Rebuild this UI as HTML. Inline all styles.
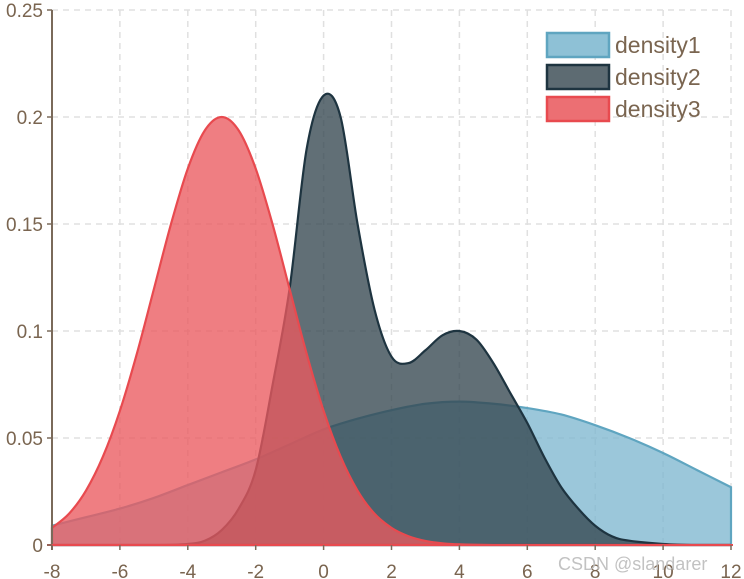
<!DOCTYPE html>
<html><head><meta charset="utf-8"><style>
body{margin:0;background:#fff}
svg{display:block;font-family:"Liberation Sans",sans-serif}
</style></head><body>
<svg id="chart" width="744" height="579"></svg>
<script>
const ticksX=[-8,-6,-4,-2,0,2,4,6,8,10,12];
const ticksY=[0,0.05,0.1,0.15,0.2,0.25];
const tickYLabels=["0","0.05","0.1","0.15","0.2","0.25"];
const x1=[-8,-7,-6,-5,-4,-3,-2,-1,0,1,2,3,4,5,6,7,8,9,10,11,12];
const density1=[.009,.013,.017,.022,.028,.034,.040,.047,.054,.059,.063,.066,.067,.066,.064,.061,.056,.050,.043,.035,.027];
const x2=[-8,-5,-4,-3.5,-3,-2.5,-2,-1.5,-1,-0.5,0,0.5,1,1.5,2,2.5,3,3.5,4,4.5,5,5.5,6,6.5,7,7.5,8,8.5,9,10,11,12];
const density2=[0,0,.0005,.002,.007,.017,.035,.075,.12,.185,.21,.2,.15,.11,.088,.085,.091,.098,.1,.096,.085,.071,.057,.041,.027,.017,.009,.004,.002,.0005,0,0];
const x3=[-8,-7.5,-7,-6.5,-6,-5.5,-5,-4.5,-4,-3.5,-3,-2.5,-2,-1.5,-1,-0.5,0,0.5,1,1.5,2,2.5,3,3.5,4,5,6,8,10,12];
const density3=[.008,.0146,.0254,.0413,.0627,.0894,.1195,.1497,.1759,.1937,.2,.1937,.1759,.1497,.1195,.0894,.0627,.0413,.0254,.0146,.008,.0041,.0019,.0008,.0003,0,0,0,0,0];
const L=52,R=731,T=10,B=545;
const sx=v=>L+(v+8)/20*(R-L);
const sy=v=>B-v/0.25*(B-T);
const svg=document.getElementById('chart');
const NS='http://www.w3.org/2000/svg';
function mk(t,a){const e=document.createElementNS(NS,t);for(const k in a)e.setAttribute(k,a[k]);svg.appendChild(e);return e;}
ticksX.forEach(v=>{const g=mk('line',{x1:sx(v),x2:sx(v),y1:T,y2:B,stroke:'#e0e0e0','stroke-dasharray':'6,5','stroke-width':1.5});

});
ticksY.forEach(v=>{const g=mk('line',{x1:L,x2:R,y1:sy(v),y2:sy(v),stroke:'#e0e0e0','stroke-dasharray':'6,5','stroke-width':1.5});

});
function path(xs,ys){
  const p=xs.map((x,i)=>[sx(x),sy(ys[i])]);
  let d='M'+p[0][0]+','+p[0][1];
  for(let i=0;i<p.length-1;i++){
    const p0=p[i-1]||p[i],p1=p[i],p2=p[i+1],p3=p[i+2]||p2;
    const c1=[p1[0]+(p2[0]-p0[0])/6,p1[1]+(p2[1]-p0[1])/6];
    const c2=[p2[0]-(p3[0]-p1[0])/6,p2[1]-(p3[1]-p1[1])/6];
    c1[1]=Math.min(c1[1],B);c2[1]=Math.min(c2[1],B);
    d+=` C${c1[0]},${c1[1]} ${c2[0]},${c2[1]} ${p2[0]},${p2[1]}`;
  }
  return d;
}
function area(xs,ys,fill,stroke,name){
  const d=path(xs,ys)+` L${sx(xs[xs.length-1])},${B} L${sx(xs[0])},${B} Z`;
  const a=mk('path',{d:d,fill:fill,'fill-opacity':0.78,stroke:stroke,'stroke-width':2.2});
  
  
}
area(x1,density1,'#7fb7cf','#5fa5c0','density1-area');
area(x2,density2,'#34464f','#1e3440','density2-area');
area(x3,density3,'#eb5a5f','#e84a4f','density3-area');
const ax=mk('line',{x1:L,x2:L,y1:T,y2:B+5,stroke:'#7a6a5a','stroke-width':2});

const bx=mk('line',{x1:L-5,x2:R+2,y1:B,y2:B,stroke:'#e84a4f','stroke-width':2});

ticksX.forEach(v=>{const t=mk('line',{x1:sx(v),x2:sx(v),y1:B,y2:B+5,stroke:'#7a6a5a','stroke-width':1.5});

const l=mk('text',{x:sx(v),y:B+33,'text-anchor':'middle','font-size':19,fill:'#7a6550'});l.textContent=v;
});
ticksY.forEach((v,i)=>{const t=mk('line',{x1:L-5,x2:L,y1:sy(v),y2:sy(v),stroke:'#7a6a5a','stroke-width':1.5});

const l=mk('text',{x:L-9,y:sy(v)+7,'text-anchor':'end','font-size':19,fill:'#7a6550'});l.textContent=tickYLabels[i];
});
const leg=[['density1','#8ec1d6','#5fa5c0'],['density2','#5d6b72','#1e3440'],['density3','#ec6f73','#e84a4f']];
leg.forEach((e,i)=>{const y=33+i*32;
const r=mk('rect',{x:547,y:y,width:62,height:24,fill:e[1],stroke:e[2],'stroke-width':2.5});

const t=mk('text',{x:615,y:y+20,'font-size':23,fill:'#7a6550'});t.textContent=e[0];
});
const w=mk('text',{x:558,y:570,'font-size':18,fill:'#bbbbbb','fill-opacity':0.9});w.textContent='CSDN @slandarer';

</script>
</body></html>
